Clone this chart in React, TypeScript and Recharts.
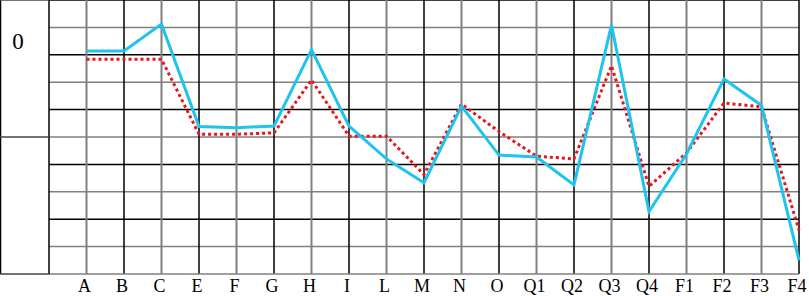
import { LineChart, Line, XAxis, YAxis, ReferenceLine, Customized } from 'recharts'

const categories = ['A', 'B', 'C', 'E', 'F', 'G', 'H', 'I', 'L', 'M', 'N', 'O', 'Q1', 'Q2', 'Q3', 'Q4', 'F1', 'F2', 'F3', 'F4']
const cyanValues = [3.14, 3.14, 4.12, 0.38, 0.34, 0.4, 3.19, 0.4, -0.8, -1.67, 1.13, -0.66, -0.73, -1.75, 4.09, -2.72, -0.62, 2.12, 1.15, -4.5]
const redValues = [2.84, 2.84, 2.84, 0.1, 0.1, 0.15, 2.08, 0.03, 0.03, -1.37, 1.2, 0.2, -0.7, -0.8, 2.6, -1.8, -0.58, 1.24, 1.1, -3.4]
const gridValues = [5, 4, 3, 2, 1, 0, -1, -2, -3, -4]
const sideLabel = '0'

const BLACK = '#000000'
const GRAY = '#808080'
const FONT = '"Times New Roman", "Liberation Serif", serif'

const data = categories.map((name, i) => ({ name, cyan: cyanValues[i], red: redValues[i] }))

// left strip: outer border and the lone "0" label
function SideStrip() {
  return (
    <g>
      <line x1={0.5} y1={0} x2={0.5} y2={274} stroke={BLACK} strokeWidth={1.5} />
      <text x={18} y={49} textAnchor="middle" style={{ fontFamily: FONT, fontSize: 23 }} fill={BLACK}>
        {sideLabel}
      </text>
    </g>
  )
}

function CatTick(props: any) {
  const { x, y, payload } = props
  return (
    <text x={x - 2} y={y + 13} textAnchor="middle" style={{ fontFamily: FONT, fontSize: 18 }} fill={BLACK}>
      {payload.value}
    </text>
  )
}

export default function App() {
  return (
    <div style={{ position: 'absolute', left: 0, top: 0, width: 809, height: 296, background: '#fff' }}>
      <LineChart width={809} height={296} data={data} margin={{ top: 0, right: 10, bottom: 0, left: 0 }}>
        <XAxis
          dataKey="name"
          padding={{ left: 37.5, right: 0 }}
          height={22}
          axisLine={{ stroke: GRAY, strokeWidth: 1.5 }}
          tickLine={false}
          tickSize={0}
          tickMargin={5}
          interval={0}
          tick={<CatTick />}
        />
        <YAxis
          type="number"
          domain={[-5, 5]}
          ticks={[-5, 0, 5]}
          width={49}
          tick={() => <g />}
          tickSize={49}
          tickLine={{ stroke: '#444', strokeWidth: 1.5 }}
          axisLine={{ stroke: BLACK, strokeWidth: 1.5 }}
        />
        {gridValues.map((v) => (
          <ReferenceLine
            key={`h-${v}`}
            y={v}
            stroke={Math.abs(v) % 2 === 1 ? BLACK : GRAY}
            strokeWidth={1.5}
          />
        ))}
        {categories.map((c, i) => (
          <ReferenceLine key={`v-${c}`} x={c} stroke={i % 2 === 0 ? GRAY : BLACK} strokeWidth={i % 2 === 0 ? 2 : 1.5} />
        ))}
        <Customized component={SideStrip} />
        <Line
          type="linear"
          dataKey="red"
          stroke="#E8141E"
          strokeWidth={3}
          strokeDasharray="3 3"
          dot={false}
          isAnimationActive={false}
        />
        <Line
          type="linear"
          dataKey="cyan"
          stroke="#1EC3EE"
          strokeWidth={3}
          dot={false}
          isAnimationActive={false}
        />
      </LineChart>
    </div>
  )
}
